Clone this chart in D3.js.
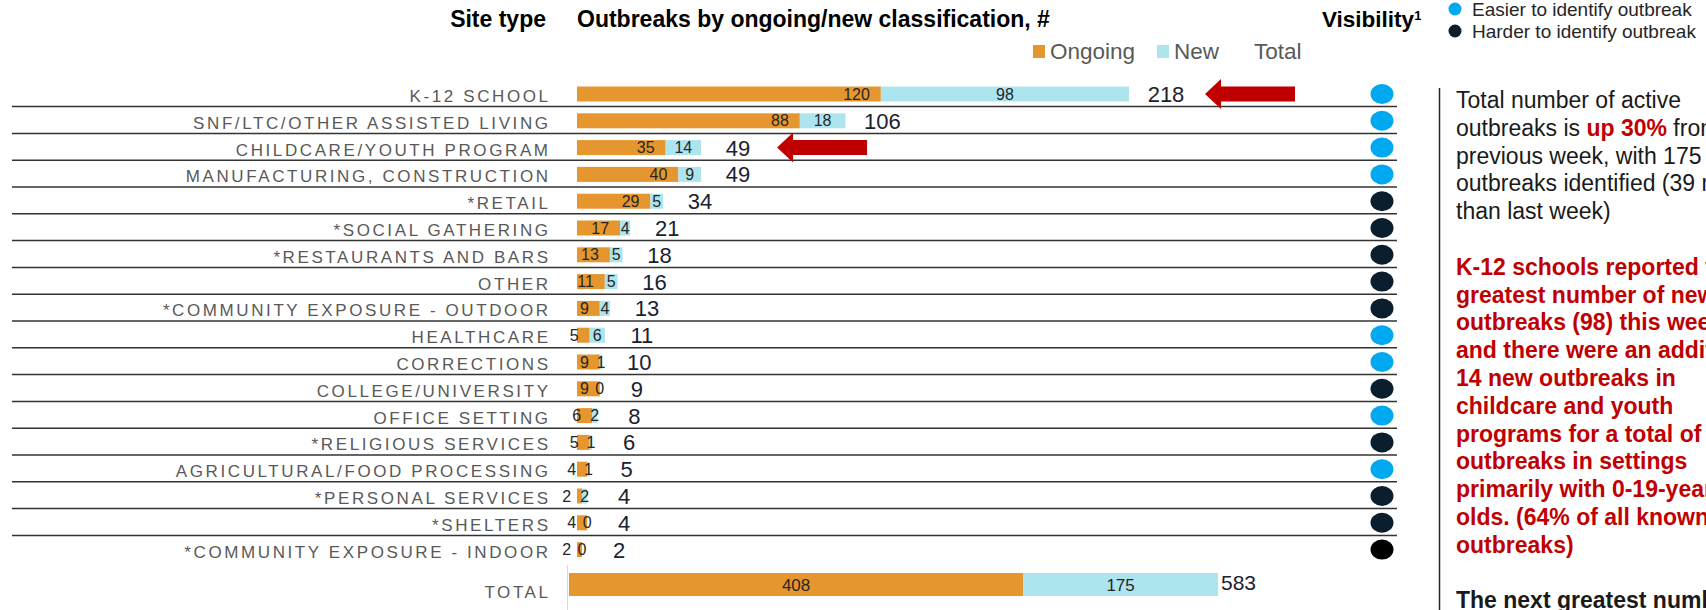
<!DOCTYPE html>
<html>
<head>
<meta charset="utf-8">
<script src="https://cdn.jsdelivr.net/npm/d3@7"></script>
<style>
  body { margin: 0; background: #fff; overflow: hidden; }
  svg { display: block; font-family: "Liberation Sans", Arial, sans-serif; }
</style>
</head>
<body>
<script>
// ---- data ----
const sites = [
  "K-12 SCHOOL", "SNF/LTC/OTHER ASSISTED LIVING", "CHILDCARE/YOUTH PROGRAM",
  "MANUFACTURING, CONSTRUCTION", "*RETAIL", "*SOCIAL GATHERING",
  "*RESTAURANTS AND BARS", "OTHER", "*COMMUNITY EXPOSURE - OUTDOOR",
  "HEALTHCARE", "CORRECTIONS", "COLLEGE/UNIVERSITY", "OFFICE SETTING",
  "*RELIGIOUS SERVICES", "AGRICULTURAL/FOOD PROCESSING", "*PERSONAL SERVICES",
  "*SHELTERS", "*COMMUNITY EXPOSURE - INDOOR"
];
const ongoing  = [120, 88, 35, 40, 29, 17, 13, 11, 9, 5, 9, 9, 6, 5, 4, 2, 4, 2];
const newCount = [98, 18, 14, 9, 5, 4, 5, 5, 4, 6, 1, 0, 2, 1, 1, 2, 0, 0];
const totals   = [218, 106, 49, 49, 34, 21, 18, 16, 13, 11, 10, 9, 8, 6, 5, 4, 4, 2];
// E = easier to identify, H = harder, U = harder (drawn black on the slide)
const visibility = ["E","E","E","E","H","H","H","H","H","E","E","H","E","H","E","H","H","U"];
const highlighted = ["K-12 SCHOOL", "CHILDCARE/YOUTH PROGRAM"];

const totalRow = { label: "TOTAL", ongoing: 408, new: 175, total: 583 };

const seriesNames = ["Ongoing", "New", "Total"];
const visLegend = [
  { key: "E", label: "Easier to identify outbreak" },
  { key: "H", label: "Harder to identify outbreak" }
];

const RED = "#c00000";
const notes = [
  [{ t: "Total number of active" }],
  [{ t: "outbreaks is " }, { t: "up 30%", c: RED, b: true }, { t: " from the" }],
  [{ t: "previous week, with 175 new" }],
  [{ t: "outbreaks identified (39 more" }],
  [{ t: "than last week)" }],
  [],
  [{ t: "K-12 schools reported the", c: RED, b: true }],
  [{ t: "greatest number of new", c: RED, b: true }],
  [{ t: "outbreaks (98) this week", c: RED, b: true }],
  [{ t: "and there were an additional", c: RED, b: true }],
  [{ t: "14 new outbreaks in", c: RED, b: true }],
  [{ t: "childcare and youth", c: RED, b: true }],
  [{ t: "programs for a total of 112", c: RED, b: true }],
  [{ t: "outbreaks in settings", c: RED, b: true }],
  [{ t: "primarily with 0-19-year", c: RED, b: true }],
  [{ t: "olds. (64% of all known", c: RED, b: true }],
  [{ t: "outbreaks)", c: RED, b: true }],
  [],
  [{ t: "The next greatest number", b: true }]
];

// ---- drawing ----
const W = 1706, H = 610;
const C_ONGOING = "#e6962e", C_NEW = "#ade5ef";
const C_EASY = "#00a8f0", C_HARD = "#0b1e2e", C_UNK = "#000";
const LABEL_GRAY = "#595959";

const rows = sites.map((s, i) => ({
  site: s, ongoing: ongoing[i], new: newCount[i], total: totals[i], vis: visibility[i]
}));

const svg = d3.select("body").append("svg")
    .attr("width", W)
    .attr("height", H)
    .attr("viewBox", `0 0 ${W} ${H}`);

const x = d3.scaleLinear()
    .domain([0, d3.max(rows, d => d.total)])
    .range([577, 1129]);

const y = d3.scaleBand()
    .domain(sites)
    .range([80.6, 80.6 + 26.8 * sites.length]);

const mid = d => y(d) + y.bandwidth() / 2;

// headers
svg.append("text")
    .attr("x", 546).attr("y", 27)
    .attr("text-anchor", "end")
    .attr("font-size", 23).attr("font-weight", "bold").attr("fill", "#000")
    .text("Site type");

svg.append("text")
    .attr("x", 577).attr("y", 27)
    .attr("font-size", 23).attr("font-weight", "bold").attr("fill", "#000")
    .text("Outbreaks by ongoing/new classification, #");

const vis = svg.append("text")
    .attr("x", 1322).attr("y", 27)
    .attr("font-size", 22.5).attr("font-weight", "bold").attr("fill", "#000")
    .text("Visibility");
vis.append("tspan").attr("dy", -7).attr("font-size", 13).text("1");

// series legend
const legX = [1033, 1157, 1254];
const legColors = [C_ONGOING, C_NEW, "none"];
const leg = svg.append("g");
seriesNames.forEach((name, i) => {
  if (legColors[i] !== "none") {
    leg.append("rect")
        .attr("x", legX[i]).attr("y", 45).attr("width", 12).attr("height", 13)
        .attr("fill", legColors[i]);
  }
  leg.append("text")
      .attr("x", legColors[i] === "none" ? legX[i] : legX[i] + 17).attr("y", 59)
      .attr("font-size", 22.5).attr("fill", LABEL_GRAY)
      .text(name);
});

// visibility legend
visLegend.forEach((d, i) => {
  svg.append("circle")
      .attr("cx", 1455).attr("cy", 9 + i * 22).attr("r", 6.5)
      .attr("fill", d.key === "E" ? C_EASY : C_HARD);
  svg.append("text")
      .attr("x", 1472).attr("y", 16 + i * 22)
      .attr("font-size", 19).attr("fill", "#262626")
      .text(d.label);
});

// row separators (all but last row)
svg.append("g").selectAll("line")
  .data(sites.slice(0, -1))
  .join("line")
    .attr("x1", 12).attr("x2", 1397)
    .attr("y1", d => mid(d) + 12.6).attr("y2", d => mid(d) + 12.6)
    .attr("stroke", "#333").attr("stroke-width", 1.5);

// category labels
const LS = 2.6;
svg.append("g").selectAll("text")
  .data(rows)
  .join("text")
    .attr("x", 548 + LS)
    .attr("y", d => mid(d.site) + 8)
    .attr("text-anchor", "end")
    .attr("font-size", 17)
    .attr("letter-spacing", LS)
    .attr("fill", LABEL_GRAY)
    .text(d => d.site);

// stacked bars
const bars = svg.append("g");
bars.selectAll("rect.ongoing")
  .data(rows)
  .join("rect")
    .attr("class", "ongoing")
    .attr("x", x(0))
    .attr("y", d => mid(d.site) - 7.5)
    .attr("width", d => x(d.ongoing) - x(0))
    .attr("height", 15)
    .attr("fill", C_ONGOING);

bars.selectAll("rect.new")
  .data(rows)
  .join("rect")
    .attr("class", "new")
    .attr("x", d => x(d.ongoing))
    .attr("y", d => mid(d.site) - 7.5)
    .attr("width", d => x(d.ongoing + d.new) - x(d.ongoing))
    .attr("height", 15)
    .attr("fill", C_NEW);

// value labels
bars.selectAll("text.vo")
  .data(rows)
  .join("text")
    .attr("class", "vo")
    .attr("x", d => x(d.ongoing) - 11)
    .attr("y", d => mid(d.site) + 5.5)
    .attr("text-anchor", "end")
    .attr("font-size", 16).attr("fill", "#262626")
    .text(d => d.ongoing);

bars.selectAll("text.vn")
  .data(rows)
  .join("text")
    .attr("class", "vn")
    .attr("x", d => (x(d.ongoing) + x(d.ongoing + d.new)) / 2)
    .attr("y", d => mid(d.site) + 5.5)
    .attr("text-anchor", "middle")
    .attr("font-size", 16).attr("fill", "#262626")
    .text(d => d.new);

bars.selectAll("text.vt")
  .data(rows)
  .join("text")
    .attr("class", "vt")
    .attr("x", d => x(d.total) + 37)
    .attr("y", d => mid(d.site) + 8)
    .attr("text-anchor", "middle")
    .attr("font-size", 22).attr("fill", "#1a2230")
    .text(d => d.total);

// visibility dots
svg.append("g").selectAll("ellipse")
  .data(rows)
  .join("ellipse")
    .attr("cx", 1382)
    .attr("cy", d => mid(d.site))
    .attr("rx", 11.5).attr("ry", 10)
    .attr("fill", d => d.vis === "E" ? C_EASY : d.vis === "H" ? C_HARD : C_UNK);

// red call-out arrows
svg.append("g").selectAll("polygon")
  .data(rows.filter(d => highlighted.includes(d.site)))
  .join("polygon")
    .attr("transform", d => `translate(${x(d.total) + 76},${mid(d.site)})`)
    .attr("points", "0,0 16,-15 16,-7.5 90,-7.5 90,7.5 16,7.5 16,15")
    .attr("fill", RED);

// total row
const xt = d3.scaleLinear()
    .domain([0, totalRow.total])
    .range([569, 1218]);
const ty = 573, th = 23;

svg.append("line")
    .attr("x1", 567.5).attr("x2", 567.5).attr("y1", 565).attr("y2", 610)
    .attr("stroke", "#d9d9d9").attr("stroke-width", 1);

svg.append("rect")
    .attr("x", xt(0)).attr("y", ty)
    .attr("width", xt(totalRow.ongoing) - xt(0)).attr("height", th)
    .attr("fill", C_ONGOING);
svg.append("rect")
    .attr("x", xt(totalRow.ongoing)).attr("y", ty)
    .attr("width", xt(totalRow.total) - xt(totalRow.ongoing)).attr("height", th)
    .attr("fill", C_NEW);

svg.append("text")
    .attr("x", (xt(0) + xt(totalRow.ongoing)) / 2).attr("y", ty + 18)
    .attr("text-anchor", "middle").attr("font-size", 17).attr("fill", "#262626")
    .text(totalRow.ongoing);
svg.append("text")
    .attr("x", (xt(totalRow.ongoing) + xt(totalRow.total)) / 2).attr("y", ty + 18)
    .attr("text-anchor", "middle").attr("font-size", 17).attr("fill", "#262626")
    .text(totalRow.new);
svg.append("text")
    .attr("x", xt(totalRow.total) + 3).attr("y", ty + 17)
    .attr("font-size", 21).attr("fill", "#1a2230")
    .text(totalRow.total);

svg.append("text")
    .attr("x", 548 + LS).attr("y", 598)
    .attr("text-anchor", "end")
    .attr("font-size", 17).attr("letter-spacing", LS).attr("fill", LABEL_GRAY)
    .text(totalRow.label);

// divider + commentary (runs off the right edge as on the slide)
svg.append("line")
    .attr("x1", 1439.5).attr("x2", 1439.5).attr("y1", 88).attr("y2", 610)
    .attr("stroke", "#262626").attr("stroke-width", 1.5);

const note = svg.append("text")
    .attr("font-size", 23).attr("fill", "#1a1a1a");
notes.forEach((line, i) => {
  line.forEach((seg, j) => {
    const ts = note.append("tspan")
        .attr("fill", seg.c || "#1a1a1a")
        .attr("font-weight", seg.b ? "bold" : "normal")
        .text(seg.t);
    if (j === 0) ts.attr("x", 1456).attr("y", 108 + i * 27.8);
  });
});
</script>
</body>
</html>
